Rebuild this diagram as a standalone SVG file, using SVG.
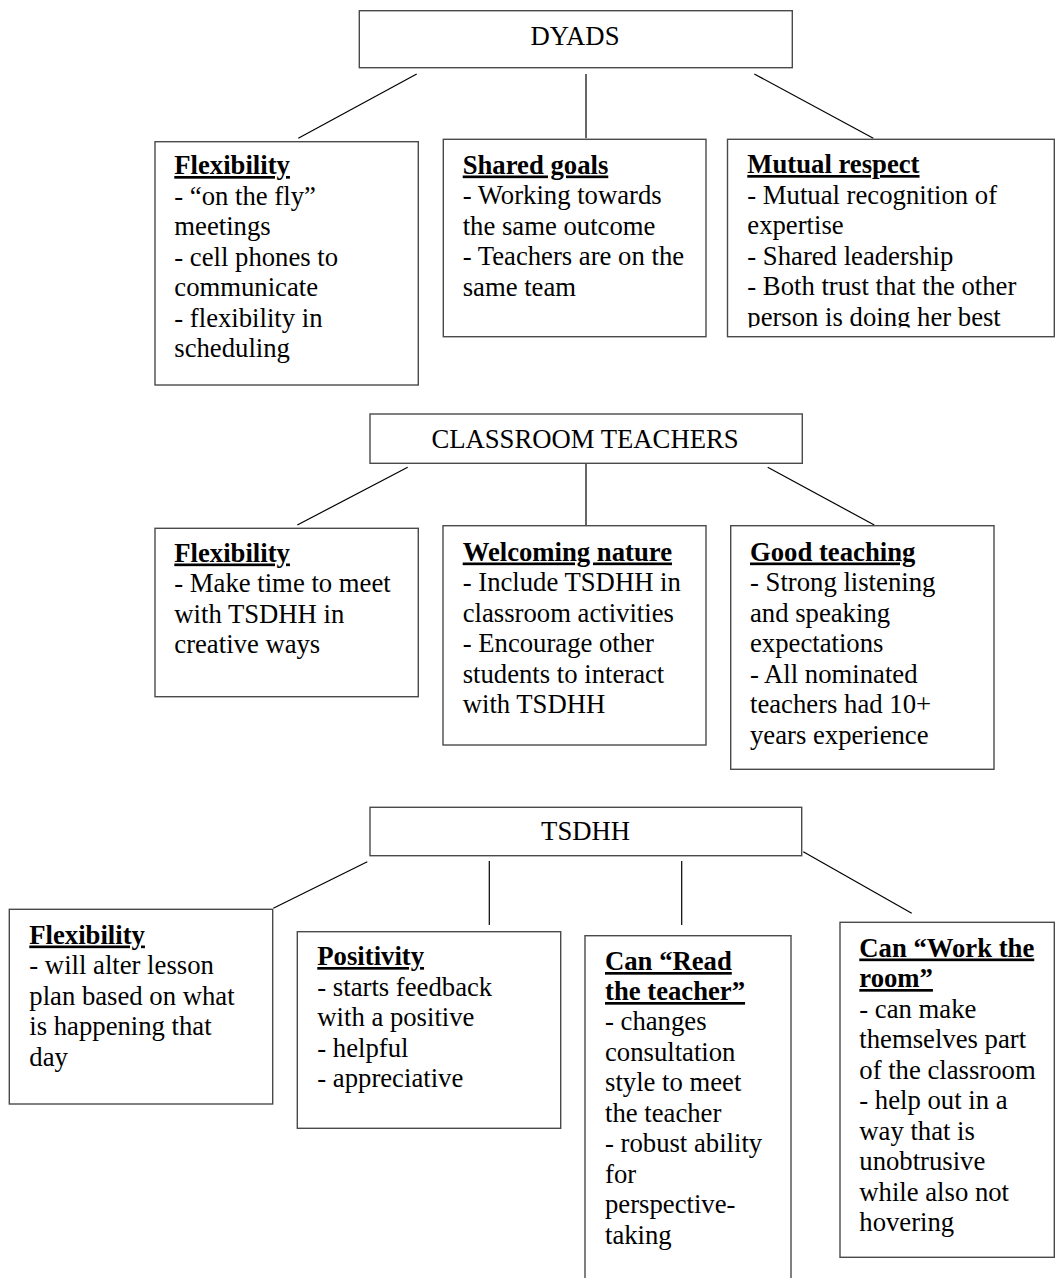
<svg xmlns="http://www.w3.org/2000/svg" width="1055" height="1278" viewBox="0 0 1055 1278">
<style>
  .box { fill: #ffffff; stroke: #4a4a4a; stroke-width: 1.4; }
  .conn { stroke: #000000; stroke-width: 1.2; fill: none; }
  text { font-family: "Liberation Serif", "Times New Roman", serif; font-size: 26.7px; fill: #000000; }
  .hdr { text-anchor: middle; }
  .ttl { font-weight: bold; text-decoration: underline; }
</style>
<defs>
  <clipPath id="clipMutual"><rect x="727" y="139" width="328" height="188.5"/></clipPath>
</defs>
<rect width="1055" height="1278" fill="#ffffff"/>

<g id="connectors">
  <line class="conn" x1="416.7" y1="74" x2="298.3" y2="138.3"/>
  <line class="conn" x1="586" y1="74" x2="586" y2="138.3"/>
  <line class="conn" x1="754.3" y1="74" x2="873.3" y2="138.3"/>
  <line class="conn" x1="407.7" y1="467.3" x2="297.3" y2="525"/>
  <line class="conn" x1="586" y1="462" x2="586" y2="526"/>
  <line class="conn" x1="767.7" y1="467.3" x2="874.3" y2="525"/>
  <line class="conn" x1="367.3" y1="861.7" x2="273.3" y2="908.3"/>
  <line class="conn" x1="489.3" y1="861" x2="489.3" y2="925"/>
  <line class="conn" x1="681.7" y1="861" x2="681.7" y2="925"/>
  <line class="conn" x1="803.3" y1="851.7" x2="911.7" y2="913.3"/>
</g>

<g id="dyads">
  <rect class="box" x="359.3" y="10.7" width="433" height="57"/>
  <text class="hdr" x="575" y="45">DYADS</text>
</g>
<g id="dyads-flexibility">
  <rect class="box" x="155" y="141.7" width="263.3" height="243.3"/>
  <text class="ttl" x="174.3" y="174">Flexibility</text>
  <text x="174.3" y="204.5">- “on the fly”</text>
  <text x="174.3" y="235">meetings</text>
  <text x="174.3" y="265.5">- cell phones to</text>
  <text x="174.3" y="296">communicate</text>
  <text x="174.3" y="326.5">- flexibility in</text>
  <text x="174.3" y="357">scheduling</text>
</g>
<g id="dyads-shared-goals">
  <rect class="box" x="443.3" y="139.3" width="262.7" height="197.4"/>
  <text class="ttl" x="462.7" y="173.5">Shared goals</text>
  <text x="462.7" y="204">- Working towards</text>
  <text x="462.7" y="234.5">the same outcome</text>
  <text x="462.7" y="265">- Teachers are on the</text>
  <text x="462.7" y="295.5">same team</text>
</g>
<g id="dyads-mutual-respect">
  <rect class="box" x="727.5" y="139.3" width="326.8" height="197.4"/>
  <g clip-path="url(#clipMutual)">
    <text class="ttl" x="747.3" y="173">Mutual respect</text>
    <text x="747.3" y="203.5">- Mutual recognition of</text>
    <text x="747.3" y="234">expertise</text>
    <text x="747.3" y="264.5">- Shared leadership</text>
    <text x="747.3" y="295">- Both trust that the other</text>
    <text x="747.3" y="325.5">person is doing her best</text>
  </g>
</g>

<g id="classroom-teachers">
  <rect class="box" x="370" y="414" width="432.3" height="49.3"/>
  <text class="hdr" x="585" y="448.3">CLASSROOM TEACHERS</text>
</g>
<g id="ct-flexibility">
  <rect class="box" x="155" y="528.3" width="263.3" height="168.4"/>
  <text class="ttl" x="174.3" y="561.5">Flexibility</text>
  <text x="174.3" y="592">- Make time to meet</text>
  <text x="174.3" y="622.5">with TSDHH in</text>
  <text x="174.3" y="653">creative ways</text>
</g>
<g id="ct-welcoming">
  <rect class="box" x="443" y="525.7" width="263" height="219.3"/>
  <text class="ttl" x="462.7" y="560.5">Welcoming nature</text>
  <text x="462.7" y="591">- Include TSDHH in</text>
  <text x="462.7" y="621.5">classroom activities</text>
  <text x="462.7" y="652">- Encourage other</text>
  <text x="462.7" y="682.5">students to interact</text>
  <text x="462.7" y="713">with TSDHH</text>
</g>
<g id="ct-good-teaching">
  <rect class="box" x="730.7" y="525.7" width="263.3" height="243.6"/>
  <text class="ttl" x="750" y="560.5">Good teaching</text>
  <text x="750" y="591">- Strong listening</text>
  <text x="750" y="621.5">and speaking</text>
  <text x="750" y="652">expectations</text>
  <text x="750" y="682.5">- All nominated</text>
  <text x="750" y="713">teachers had 10+</text>
  <text x="750" y="743.5">years experience</text>
</g>

<g id="tsdhh">
  <rect class="box" x="370" y="807.3" width="431.7" height="48.4"/>
  <text class="hdr" x="585.6" y="840">TSDHH</text>
</g>
<g id="tsdhh-flexibility">
  <rect class="box" x="9.3" y="909.3" width="263.4" height="194.7"/>
  <text class="ttl" x="29.3" y="943.5">Flexibility</text>
  <text x="29.3" y="974">- will alter lesson</text>
  <text x="29.3" y="1004.5">plan based on what</text>
  <text x="29.3" y="1035">is happening that</text>
  <text x="29.3" y="1065.5">day</text>
</g>
<g id="tsdhh-positivity">
  <rect class="box" x="297.3" y="931.7" width="263.4" height="196.6"/>
  <text class="ttl" x="317.3" y="965">Positivity</text>
  <text x="317.3" y="995.5">- starts feedback</text>
  <text x="317.3" y="1026">with a positive</text>
  <text x="317.3" y="1056.5">- helpful</text>
  <text x="317.3" y="1087">- appreciative</text>
</g>
<g id="tsdhh-read-teacher">
  <rect class="box" x="585" y="935.7" width="206" height="360"/>
  <text class="ttl" x="605" y="970">Can “Read</text>
  <text class="ttl" x="605" y="1000">the teacher”</text>
  <text x="605" y="1030">- changes</text>
  <text x="605" y="1060.5">consultation</text>
  <text x="605" y="1091">style to meet</text>
  <text x="605" y="1121.5">the teacher</text>
  <text x="605" y="1152">- robust ability</text>
  <text x="605" y="1182.5">for</text>
  <text x="605" y="1213">perspective-</text>
  <text x="605" y="1243.5">taking</text>
</g>
<g id="tsdhh-work-room">
  <rect class="box" x="840" y="922.3" width="214.3" height="335"/>
  <text class="ttl" x="859.3" y="956.5">Can “Work the</text>
  <text class="ttl" x="859.3" y="987">room”</text>
  <text x="859.3" y="1017.5">- can make</text>
  <text x="859.3" y="1048">themselves part</text>
  <text x="859.3" y="1078.5">of the classroom</text>
  <text x="859.3" y="1109">- help out in a</text>
  <text x="859.3" y="1139.5">way that is</text>
  <text x="859.3" y="1170">unobtrusive</text>
  <text x="859.3" y="1200.5">while also not</text>
  <text x="859.3" y="1231">hovering</text>
</g>
</svg>
